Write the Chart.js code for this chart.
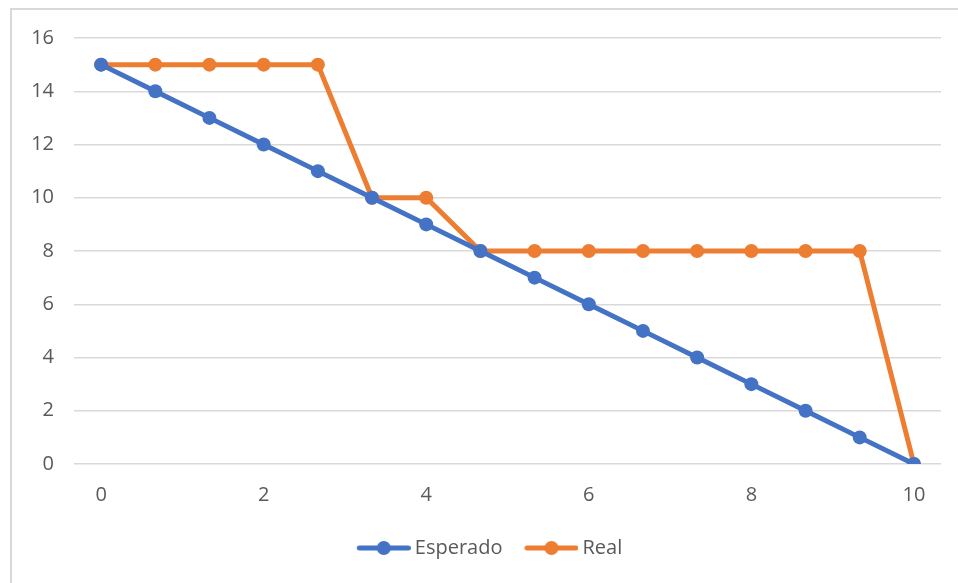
<!DOCTYPE html>
<html>
<head>
<meta charset="utf-8">
<script src="https://cdn.jsdelivr.net/npm/chart.js@4"></script>
<style>
html,body{margin:0;padding:0;background:#fff;overflow:hidden;}
#wrap{position:absolute;left:0;top:0;width:958px;height:583px;}
#frame{position:absolute;left:10px;top:8px;width:1000px;height:700px;border:2px solid #d9d9d9;box-sizing:border-box;}
</style>
</head>
<body>
<div id="frame"></div>
<div id="wrap"><canvas id="c" width="958" height="583"></canvas></div>
<script>
const xValues = [0, 0.667, 1.333, 2, 2.667, 3.333, 4, 4.667, 5.333, 6, 6.667, 7.333, 8, 8.667, 9.333, 10];
const esperado = [15, 14, 13, 12, 11, 10, 9, 8, 7, 6, 5, 4, 3, 2, 1, 0];
const real = [15, 15, 15, 15, 15, 10, 10, 8, 8, 8, 8, 8, 8, 8, 8, 0];
const xTicks = [0, 2, 4, 6, 8, 10];
const yTicks = [0, 2, 4, 6, 8, 10, 12, 14, 16];
const seriesNames = ['Esperado', 'Real'];
const colors = ['#4472C4', '#ED7D31'];

function legendIcon(color) {
  const cv = document.createElement('canvas');
  cv.width = 62; cv.height = 16;
  const g = cv.getContext('2d');
  g.strokeStyle = color; g.lineWidth = 5; g.lineCap = 'round';
  g.beginPath(); g.moveTo(10.5, 8); g.lineTo(59.5, 8); g.stroke();
  g.fillStyle = color;
  g.beginPath(); g.arc(35, 8, 7, 0, Math.PI * 2); g.fill();
  return cv;
}

const toPts = arr => arr.map((v, i) => ({x: xValues[i], y: v}));
const FONT = "'Open Sans', 'Liberation Sans', sans-serif";

const legendShift = {
  id: 'legendShift',
  afterLayout(chart) {
    if (chart.legend) { chart.legend.left += 18; chart.legend.right += 18; }
  }
};

new Chart(document.getElementById('c'), {
  type: 'line',
  plugins: [legendShift],
  data: {
    datasets: [
      {label: seriesNames[0], data: toPts(esperado), borderColor: colors[0], backgroundColor: colors[0], borderWidth: 5, pointRadius: 7, pointHoverRadius: 7, pointBorderWidth: 0, tension: 0},
      {label: seriesNames[1], data: toPts(real), borderColor: colors[1], backgroundColor: colors[1], borderWidth: 5, pointRadius: 7, pointHoverRadius: 7, pointBorderWidth: 0, tension: 0}
    ]
  },
  options: {
    responsive: false,
    animation: false,
    events: [],
    layout: {padding: {top: 38, right: 17, left: 0, bottom: 15}},
    scales: {
      x: {
        type: 'linear', min: -1/3, max: 31/3,
        afterBuildTicks: s => { s.ticks = xTicks.map(v => ({value: v})); },
        grid: {display: false},
        border: {display: false},
        ticks: {color: '#595959', font: {family: FONT, size: 20}, padding: 11, maxRotation: 0, autoSkip: false}
      },
      y: {
        min: 0, max: 16,
        afterBuildTicks: s => { s.ticks = yTicks.map(v => ({value: v})); },
        afterFit: s => { s.width = 74; },
        grid: {color: '#d9d9d9', lineWidth: 1.5, drawTicks: false},
        border: {display: false},
        ticks: {color: '#595959', font: {family: FONT, size: 20}, padding: 20}
      }
    },
    plugins: {
      tooltip: {enabled: false},
      legend: {
        position: 'bottom',
        labels: {
          color: '#595959',
          font: {family: FONT, size: 20},
          usePointStyle: true,
          pointStyleWidth: 50,
          boxHeight: 16,
          padding: 20,
          generateLabels: chart => chart.data.datasets.map((d, i) => ({
            text: d.label, pointStyle: legendIcon(colors[i]), fillStyle: colors[i], strokeStyle: colors[i], lineWidth: 0, hidden: false, datasetIndex: i, fontColor: '#595959'
          }))
        }
      }
    }
  }
});
</script>
</body>
</html>
